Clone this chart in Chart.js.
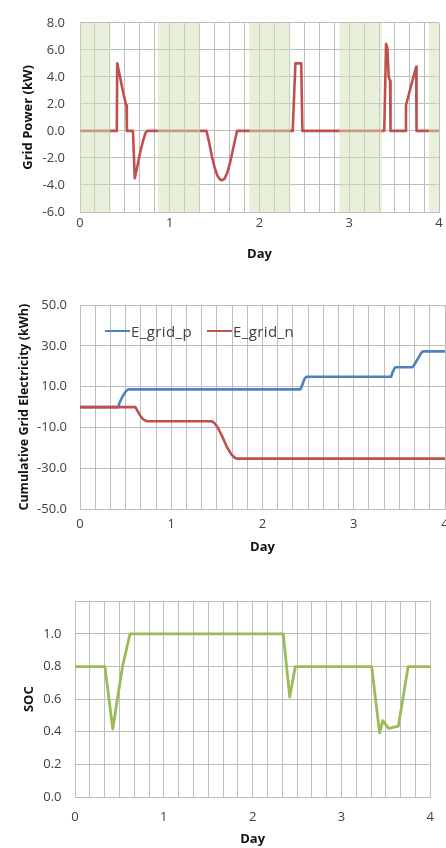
<!DOCTYPE html>
<html>
<head>
<meta charset="utf-8">
<script src="https://cdn.jsdelivr.net/npm/chart.js@4.4.1/dist/chart.umd.min.js"></script>
<style>
  html, body { margin: 0; padding: 0; background: #fff; width: 446px; height: 848px; overflow: hidden; position: relative; }
  .panel { position: absolute; left: 0; }
  canvas { display: block; }
  #legend2 { position: absolute; left: 105px; top: 321px; display: flex; align-items: center;
             font: 15px 'Open Sans', sans-serif; color: #404040; letter-spacing: 0.4px; }
  #legend2 .item { display: flex; align-items: center; margin-right: 15px; }
  #legend2 .swatch { display: inline-block; width: 25px; height: 2.5px; margin-right: 1px; }
</style>
</head>
<body>
<div class="panel" style="top:0"><canvas id="gridPower" width="446" height="270"></canvas></div>
<div class="panel" style="top:280px"><canvas id="cumulative" width="458" height="290"></canvas></div>
<div class="panel" style="top:580px"><canvas id="soc" width="446" height="268"></canvas></div>
<div id="legend2"></div>

<script>
// ---- data ----
const dayLabels = ['0', '1', '2', '3', '4'];

// grid power exchange (kW) over four days
const powerDay = [0, 0.41, 0.415, 0.44, 0.47, 0.51, 0.518, 0.522, 0.59, 0.61, 0.64, 0.67, 0.70, 0.73, 0.75,
  1.41, 1.44, 1.47, 1.50, 1.53, 1.56, 1.58, 1.61, 1.64, 1.67, 1.70, 1.73, 1.75,
  2.37, 2.40, 2.465, 2.478,
  3.39, 3.41, 3.425, 3.44, 3.455, 3.46,
  3.628, 3.632, 3.745, 3.75, 4.0];
const powerKW = [0, 0, 5.0, 4.2, 3.2, 2.0, 1.9, 0, 0, -3.5, -2.6, -1.6, -0.8, -0.15, 0,
  0, -0.9, -1.9, -2.7, -3.3, -3.6, -3.65, -3.55, -3.1, -2.4, -1.5, -0.6, 0,
  0, 5.0, 5.0, 0,
  0, 6.45, 6.1, 4.0, 3.7, 0,
  0, 1.9, 4.75, 0, 0];

// night periods (day fractions)
const nightStart = [0, 0.865, 1.885, 2.89, 3.885];
const nightEnd   = [0.34, 1.337, 2.344, 3.363, 4.0];

// cumulative grid electricity (kWh)
const eGridPDay = [0, 0.417, 0.44, 0.47, 0.50, 0.527, 2.415, 2.43, 2.46, 2.48,
  3.41, 3.425, 3.45, 3.46, 3.64, 3.66, 3.70, 3.74, 3.76, 4.0];
const eGridP = [0, 0, 2.9, 5.5, 7.6, 8.7, 8.7, 10.2, 13.8, 14.9,
  14.9, 17.0, 19.3, 19.5, 19.5, 20.5, 23.5, 26.6, 27.3, 27.3];
const eGridNDay = [0, 0.607, 0.63, 0.66, 0.69, 0.72, 0.74, 1.44, 1.47, 1.51, 1.56, 1.61, 1.66, 1.70, 1.73, 4.0];
const eGridN = [0, 0, -1.8, -4.2, -5.8, -6.7, -6.9, -6.9, -7.6, -10.0, -14.5, -19.5, -23.2, -24.9, -25.2, -25.2];

// battery state of charge
const socDay = [0, 0.337, 0.425, 0.535, 0.619, 2.344, 2.418, 2.48, 3.34, 3.429, 3.465, 3.531, 3.641, 3.751, 4.0];
const socVal = [0.8, 0.8, 0.417, 0.80, 1.0, 1.0, 0.613, 0.8, 0.8, 0.393, 0.468, 0.421, 0.435, 0.8, 0.8];

// ---- helpers ----
const FONT = 'Open Sans';
const GRID = '#bdbdbd';
const pts = (xs, ys) => xs.map((x, i) => ({ x, y: ys[i] }));

function dayAxis(labelPad, titlePadBottom, height) {
  return {
    type: 'linear', min: 0, max: 4,
    afterBuildTicks(s) {
      const t = [];
      for (let i = 0; i <= 24; i++) t.push({ value: i / 6 });
      s.ticks = t;
    },
    ticks: {
      autoSkip: false, maxRotation: 0, minRotation: 0, padding: labelPad, color: '#404040',
      font: { family: FONT, size: 13 },
      callback(v) {
        const r = Math.round(v);
        return Math.abs(v - r) < 1e-6 ? dayLabels[r] : '';
      }
    },
    grid: { color: GRID, drawTicks: false, lineWidth: 1 },
    border: { color: GRID },
    title: { display: true, text: 'Day', color: '#111',
      font: { family: FONT, size: 13, weight: 'bold' }, padding: { top: 0, bottom: titlePadBottom } },
    afterFit(s) { s.height = height; }
  };
}

function valueAxis(o) {
  return {
    type: 'linear', min: o.min, max: o.max,
    ticks: {
      stepSize: o.step, padding: o.tickPad, color: '#404040',
      font: { family: FONT, size: 13 },
      callback: o.fmt
    },
    grid: { color: GRID, drawTicks: false, lineWidth: 1 },
    border: { color: GRID },
    title: { display: true, text: o.title, color: '#111',
      font: { family: FONT, size: o.titleSize || 13, weight: 'bold' }, padding: { top: o.titlePad, bottom: 0 } },
    afterFit(s) { s.width = o.width; }
  };
}

function baseOptions(padding, scales, extra) {
  return Object.assign({
    responsive: false, animation: false, events: [],
    layout: { padding },
    plugins: { legend: { display: false }, tooltip: { enabled: false } },
    elements: { point: { radius: 0 }, line: { tension: 0, borderJoinStyle: 'round', borderCapStyle: 'round' } },
    scales
  }, extra || {});
}

// semi-transparent night bands painted over the power trace
const nightShade = {
  id: 'nightShade',
  afterDatasetsDraw(chart) {
    const { ctx, chartArea: a, scales: { x } } = chart;
    ctx.save();
    ctx.fillStyle = 'rgba(210,226,186,0.5)';
    nightStart.forEach((s, i) => {
      const x0 = x.getPixelForValue(s), x1 = x.getPixelForValue(nightEnd[i]);
      ctx.fillRect(x0, a.top, x1 - x0, a.bottom - a.top);
    });
    ctx.restore();
  }
};

// ---- chart 1: grid power ----
new Chart(document.getElementById('gridPower'), {
  type: 'line',
  data: { datasets: [{ label: 'P_grid', data: pts(powerDay, powerKW), borderColor: '#C0504D', borderWidth: 2.6, fill: false }] },
  options: baseOptions({ top: 14, right: 7, left: 0, bottom: 0 }, {
    x: dayAxis(3, 8, 58),
    y: valueAxis({ min: -6, max: 8, step: 2, width: 80, tickPad: 15, title: 'Grid Power (kW)', titlePad: 20,
      fmt: v => v.toFixed(1) })
  }),
  plugins: [nightShade]
});

// ---- chart 2: cumulative grid electricity ----
const cum = new Chart(document.getElementById('cumulative'), {
  type: 'line',
  data: { datasets: [
    { label: 'E_grid_p', data: pts(eGridPDay, eGridP), borderColor: '#4F81BD', borderWidth: 2.6, fill: false, order: 1 },
    { label: 'E_grid_n', data: pts(eGridNDay, eGridN), borderColor: '#C0504D', borderWidth: 2.6, fill: false, order: 0 }
  ] },
  options: baseOptions({ top: 25, right: 13, left: 0, bottom: 0 }, {
    x: dayAxis(7, 15, 60.7),
    y: valueAxis({ min: -50, max: 50, step: 20, width: 80, tickPad: 13, title: 'Cumulative Grid Electricity (kWh)',
      titlePad: 17, titleSize: 12.5, fmt: v => v.toFixed(1) })
  })
});

// legend placed inside the plot area, built from the dataset list
const legendBox = document.getElementById('legend2');
cum.data.datasets.forEach(ds => {
  const item = document.createElement('span');
  item.className = 'item';
  const sw = document.createElement('span');
  sw.className = 'swatch';
  sw.style.background = ds.borderColor;
  const txt = document.createElement('span');
  txt.textContent = ds.label;
  item.appendChild(sw);
  item.appendChild(txt);
  legendBox.appendChild(item);
});

// ---- chart 3: state of charge ----
new Chart(document.getElementById('soc'), {
  type: 'line',
  data: { datasets: [{ label: 'SOC', data: pts(socDay, socVal), borderColor: '#9BBB59', borderWidth: 2.8, fill: false }] },
  options: baseOptions({ top: 19, right: 7, left: 0, bottom: 0 }, {
    x: dayAxis(12, 1, 51),
    y: valueAxis({ min: 0, max: 1.2, step: 0.2, width: 75, tickPad: 13.5, title: 'SOC', titlePad: 21,
      fmt: v => (v > 1.1 ? '' : v.toFixed(1)) })
  })
});
</script>
</body>
</html>
